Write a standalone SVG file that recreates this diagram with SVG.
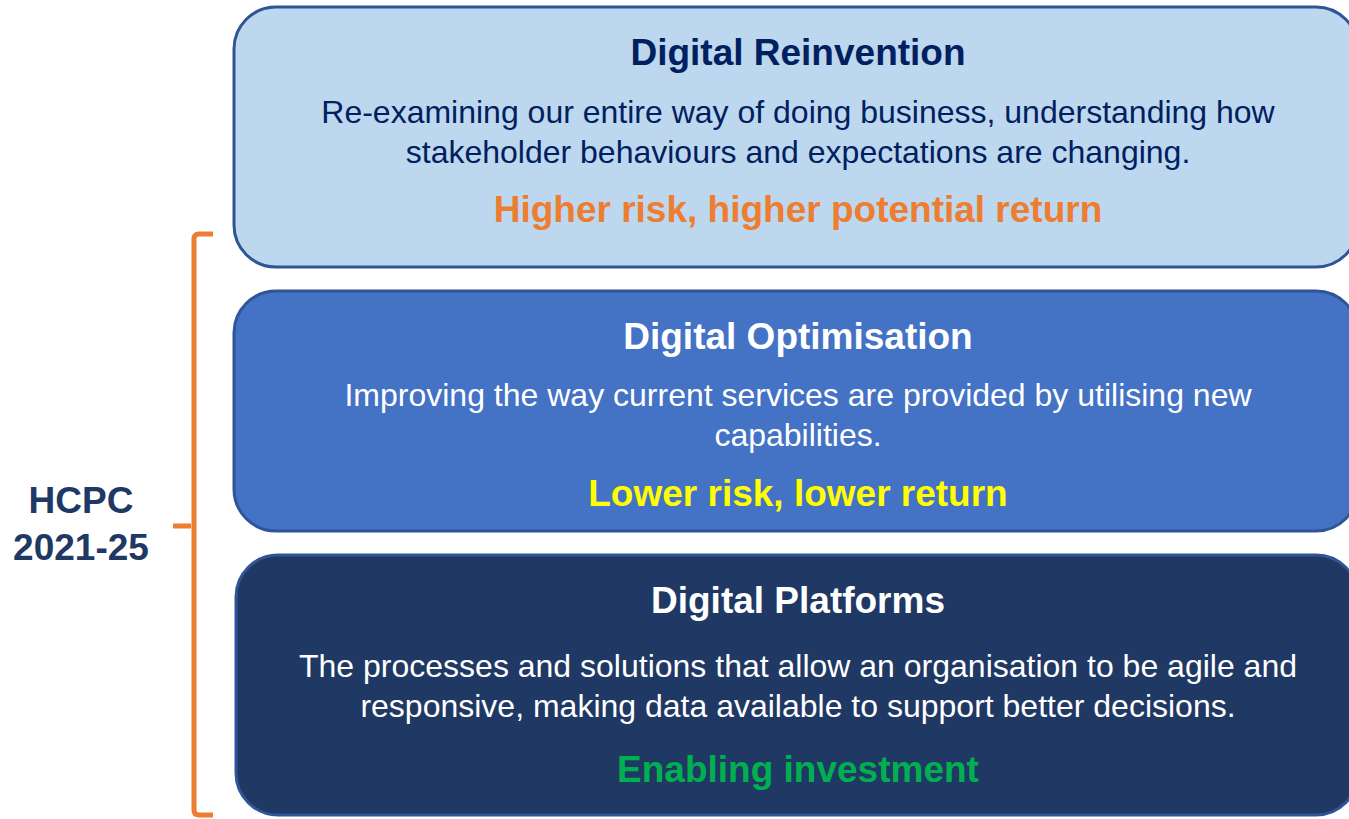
<svg xmlns="http://www.w3.org/2000/svg" width="1349" height="819" viewBox="0 0 1349 819">
<style>
.box{stroke:#2F5597;stroke-width:3}
text{font-family:"Liberation Sans",Arial,sans-serif;text-anchor:middle}
.t{font-size:37px;font-weight:bold}
.b{font-size:32px}
.a{font-size:37px;font-weight:bold}
.br{fill:none;stroke:#ED7D31;stroke-width:5;stroke-linejoin:round}
</style>
<rect width="1349" height="819" fill="#FFFFFF"/>
<g id="reinvention">
<rect class="box" x="234" y="7" width="1124" height="260" rx="42" fill="#BDD7EE"/>
<text class="t" x="798" y="65" fill="#002060">Digital Reinvention</text>
<text class="b" x="798" y="123" fill="#002060">Re-examining our entire way of doing business, understanding how</text>
<text class="b" x="798" y="163" fill="#002060">stakeholder behaviours and expectations are changing.</text>
<text class="a" x="798" y="222" fill="#ED7D31">Higher risk, higher potential return</text>
</g>
<g id="optimisation">
<rect class="box" x="234" y="291" width="1124" height="240" rx="42" fill="#4472C4"/>
<text class="t" x="798" y="349" fill="#FFFFFF">Digital Optimisation</text>
<text class="b" x="798" y="406" fill="#FFFFFF">Improving the way current services are provided by utilising new</text>
<text class="b" x="798" y="446" fill="#FFFFFF">capabilities.</text>
<text class="a" x="798" y="506" fill="#FFFF00">Lower risk, lower return</text>
</g>
<g id="platforms">
<rect class="box" x="236" y="555" width="1122" height="260" rx="42" fill="#203864"/>
<text class="t" x="798" y="613" fill="#FFFFFF">Digital Platforms</text>
<text class="b" x="798" y="677" fill="#FFFFFF">The processes and solutions that allow an organisation to be agile and</text>
<text class="b" x="798" y="717" fill="#FFFFFF">responsive, making data available to support better decisions.</text>
<text class="a" x="798" y="782" fill="#00B050">Enabling investment</text>
</g>
<g id="hcpc">
<path class="br" d="M213,234 L199,234 Q194,234 194,239 L194,810 Q194,815 199,815 L213,815 M173,526 L191,526"/>
<text class="t" x="81" y="513" fill="#203864">HCPC</text>
<text class="t" x="81" y="560" fill="#203864">2021-25</text>
</g>
</svg>
